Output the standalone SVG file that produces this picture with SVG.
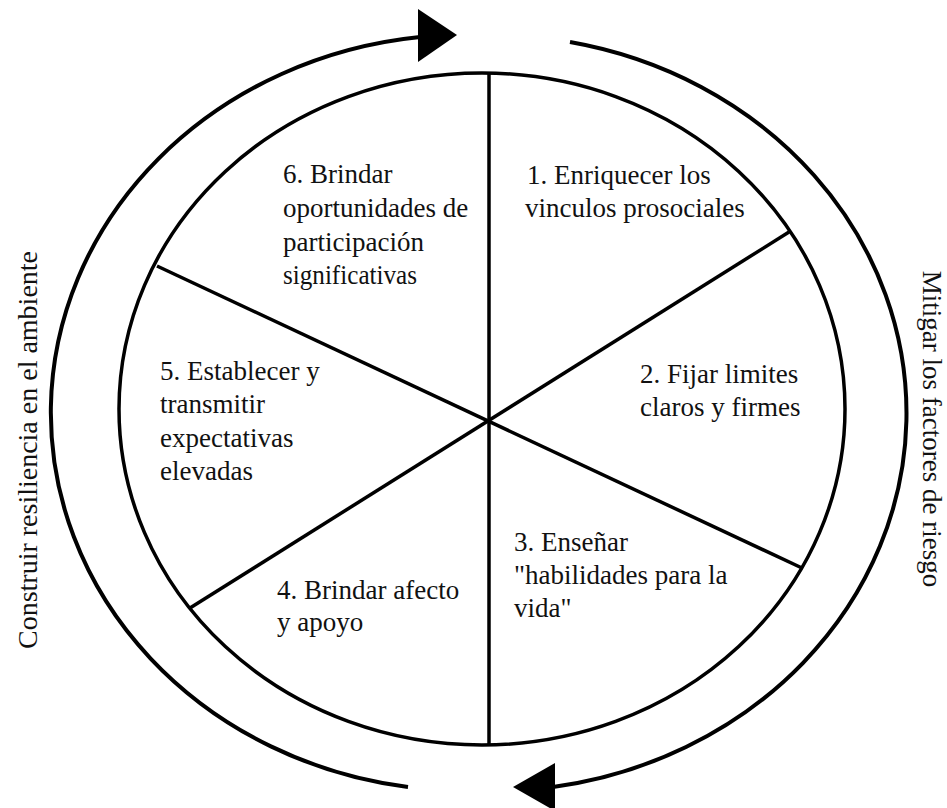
<svg xmlns="http://www.w3.org/2000/svg" width="947" height="808" viewBox="0 0 947 808">
<style>
.ln{fill:none;stroke:#000;stroke-width:3.5}
.arc{fill:none;stroke:#000;stroke-width:4}
.t{font-family:"Liberation Serif","Times New Roman",serif;font-size:27px;fill:#111}
</style>
<rect width="947" height="808" fill="#fff"/>
<g id="connectors">
<ellipse class="ln" cx="482" cy="409" rx="363" ry="336"/>
<line class="ln" x1="489" y1="73" x2="489" y2="745"/>
<line class="ln" x1="157" y1="266" x2="802" y2="568"/>
<line class="ln" x1="789" y1="232" x2="190" y2="608"/>
<path class="arc" d="M408 787 A415 378 0 0 1 420 37"/>
<polygon points="457,35 418,9 418,62" fill="#000"/>
<path class="arc" d="M570 42 A415 378 0 0 1 553 787"/>
<polygon points="513,787 555,763 555,811" fill="#000"/>
</g>
<g id="n6"><text class="t" x="283" y="183">6. Brindar</text><text class="t" x="283" y="217">oportunidades de</text><text class="t" x="283" y="251">participación</text><text class="t" x="283" y="284" textLength="134" lengthAdjust="spacingAndGlyphs">significativas</text></g>
<g id="n1"><text class="t" x="527" y="184">1. Enriquecer los</text><text class="t" x="525" y="217">vinculos prosociales</text></g>
<g id="n5"><text class="t" x="160" y="380">5. Establecer y</text><text class="t" x="160" y="413">transmitir</text><text class="t" x="160" y="447">expectativas</text><text class="t" x="160" y="480">elevadas</text></g>
<g id="n2"><text class="t" x="640" y="383">2. Fijar limites</text><text class="t" x="640" y="416">claros y firmes</text></g>
<g id="n3"><text class="t" x="514" y="551">3. Enseñar</text><text class="t" x="514" y="584">"habilidades para la</text><text class="t" x="514" y="617">vida"</text></g>
<g id="n4"><text class="t" x="277" y="599">4. Brindar afecto</text><text class="t" x="277" y="631">y apoyo</text></g>
<g id="left-label"><text class="t" style="font-size:28px" text-anchor="middle" transform="translate(37,450) rotate(-90)">Construir resiliencia en el ambiente</text></g>
<g id="right-label"><text class="t" text-anchor="middle" transform="translate(923,429) rotate(90)">Mitigar los factores de riesgo</text></g>
</svg>
